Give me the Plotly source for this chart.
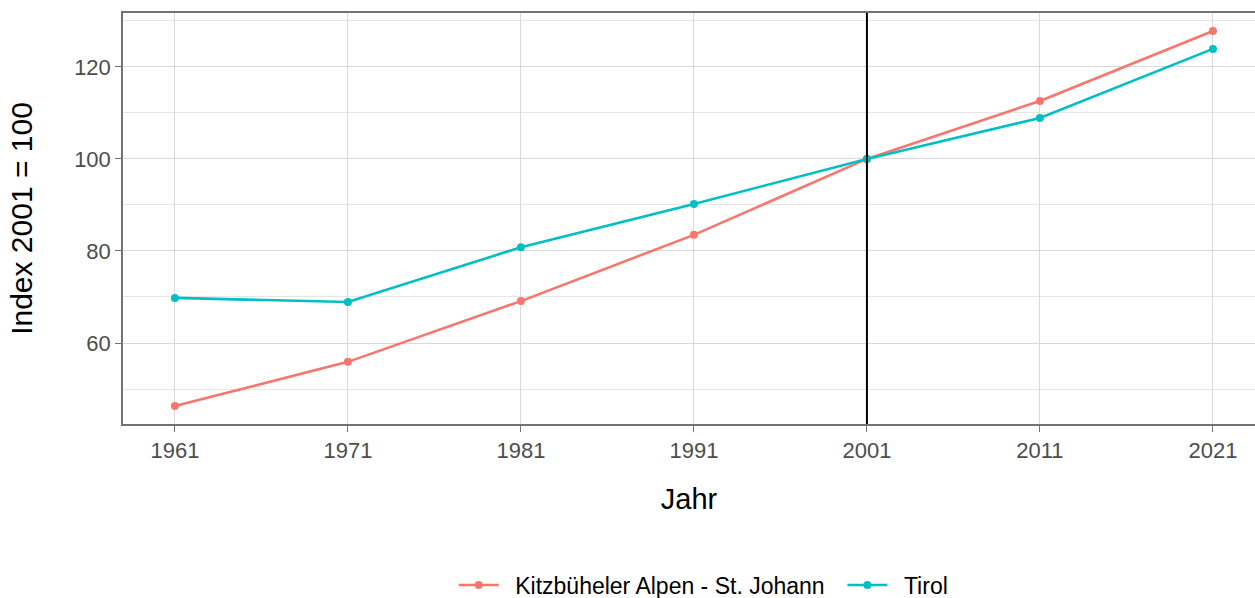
import plotly.graph_objects as go

years = [1961, 1971, 1981, 1991, 2001, 2011, 2021]
kitz = [46.3, 55.9, 69.1, 83.5, 100.0, 112.6, 127.8]
tirol = [69.8, 68.9, 80.8, 90.2, 100.0, 108.9, 123.9]
series_names = ["Kitzbüheler Alpen - St. Johann", "Tirol"]
colors = ["#F8766D", "#00BFC4"]
y_ticks = [60, 80, 100, 120]
ref_year = 2001

# legend labels padded with non-collapsing spaces to mimic ggplot legend spacing
legend_labels = ["\u2002" + series_names[0] + "\u00a0\u00a0", "\u2002" + series_names[1]]

fig = go.Figure()
for name, label, vals, col in zip(series_names, legend_labels, [kitz, tirol], colors):
    fig.add_trace(go.Scatter(
        x=years, y=vals, name=label, mode="lines+markers",
        line=dict(color=col, width=2.6),
        marker=dict(color=col, size=8),
        hovertemplate=name + "<br>%{x}: %{y}<extra></extra>",
    ))

fig.add_vline(x=ref_year, line=dict(color="black", width=2), layer="above")

font_family = "Liberation Sans, Arial, sans-serif"
fig.update_layout(
    width=1255, height=598,
    margin=dict(l=123, r=0, t=13, b=174, autoexpand=False),
    plot_bgcolor="white", paper_bgcolor="white",
    font=dict(family=font_family),
    showlegend=True,
    legend=dict(orientation="h", x=0.513, xanchor="center", y=-0.392, yanchor="middle",
                font=dict(size=23, color="black"), itemwidth=40, tracegroupgap=0),
    xaxis=dict(
        range=[1958, 2023.43], tickvals=years, ticktext=[str(y) for y in years],
        automargin=False,
        showgrid=True, gridcolor="#D9D9D9", gridwidth=1,
        showline=True, linecolor="#737373", linewidth=1.5, mirror=True,
        ticks="outside", ticklen=6, tickcolor="#737373",
        tickfont=dict(size=22, color="#4D4D4D"),
        title=dict(text="Jahr", font=dict(size=29, color="black"), standoff=27),
        zeroline=False,
    ),
    yaxis=dict(
        range=[42.4, 131.7], tickvals=y_ticks,
        automargin=False,
        showgrid=True, gridcolor="#D9D9D9", gridwidth=1,
        minor=dict(dtick=10, tick0=50, showgrid=True, gridcolor="#E6E6E6", gridwidth=1, ticks=""),
        showline=True, linecolor="#737373", linewidth=1.5,
        ticks="outside", ticklen=6, tickcolor="#737373",
        tickfont=dict(size=22, color="#4D4D4D"),
        title=dict(text="Index 2001 = 100", font=dict(size=30, color="black"), standoff=33),
        zeroline=False,
    ),
)

fig.write_html("out.html", config={"displayModeBar": False},
               post_script="document.body.style.margin='0';document.body.style.padding='0';document.body.style.overflow='hidden';")
